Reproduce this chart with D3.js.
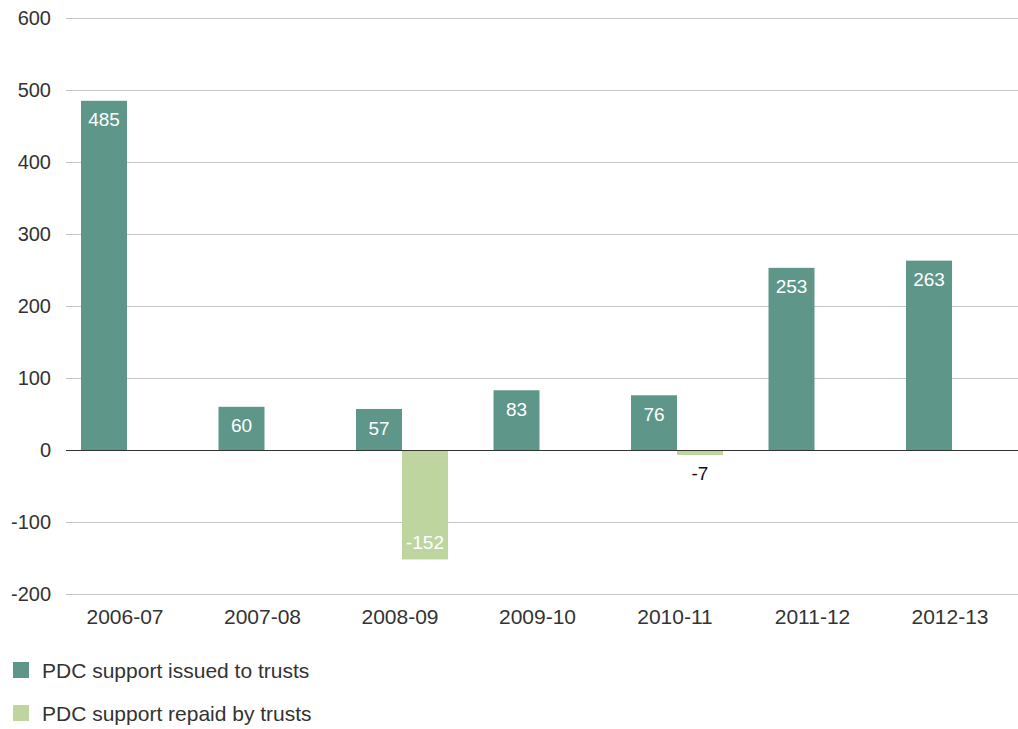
<!DOCTYPE html>
<html lang="en">
<head>
    <meta charset="UTF-8">
    <title>PDC support</title>
    <script src="https://d3js.org/d3.v7.min.js"></script>
    <style>
        body {
            margin: 0;
            background: white;
            font-family: "Helvetica Neue", Helvetica, "Liberation Sans", Arial, sans-serif;
        }
        .grid line { stroke: #c4c4c4; stroke-width: 1; }
        .y-label { fill: #333; font-size: 20px; }
        .x-label { fill: #333; font-size: 21px; }
        .value-label { font-size: 19px; }
        .legend-label { fill: #333; font-size: 21px; }
    </style>
</head>
<body>
    <div id="chart"></div>
    <script>
        // Data
        const years = ['2006-07', '2007-08', '2008-09', '2009-10', '2010-11', '2011-12', '2012-13'];
        const issued = [485, 60, 57, 83, 76, 253, 263];
        const repaid = [null, null, -152, null, -7, null, null];
        const seriesNames = ['PDC support issued to trusts', 'PDC support repaid by trusts'];
        const yTicks = [-200, -100, 0, 100, 200, 300, 400, 500, 600];

        const colors = ['#5e978a', '#bed5a0'];
        const width = 1018, height = 729;

        const svg = d3.select('#chart').append('svg')
            .attr('width', width)
            .attr('height', height);

        const y = d3.scaleLinear().domain([-200, 600]).range([594, 18]);
        const x = d3.scaleBand().domain(years)
            .range([58.25, 1020.75])
            .paddingInner(0.331)
            .paddingOuter(0.1655);
        const sub = d3.scaleBand().domain([0, 1]).range([0, x.bandwidth()]);

        // Gridlines
        const grid = svg.append('g').attr('class', 'grid');
        grid.selectAll('line')
            .data(yTicks.filter(d => d !== 0))
            .join('line')
            .attr('x1', 66).attr('x2', width)
            .attr('y1', d => Math.round(y(d)) + 0.5)
            .attr('y2', d => Math.round(y(d)) + 0.5);

        // Y tick labels
        svg.append('g').selectAll('text')
            .data(yTicks)
            .join('text')
            .attr('class', 'y-label')
            .attr('x', 51)
            .attr('y', d => y(d))
            .attr('dy', '0.35em')
            .attr('text-anchor', 'end')
            .text(d => d);

        // Bars
        const rows = [];
        years.forEach((yr, i) => {
            rows.push({ year: yr, s: 0, v: issued[i] });
            if (repaid[i] !== null) rows.push({ year: yr, s: 1, v: repaid[i] });
        });

        svg.append('g').selectAll('rect')
            .data(rows)
            .join('rect')
            .attr('x', d => x(d.year) + sub(d.s))
            .attr('width', sub.bandwidth())
            .attr('y', d => y(Math.max(0, d.v)))
            .attr('height', d => Math.abs(y(d.v) - y(0)))
            .attr('fill', d => colors[d.s]);

        // Zero line
        svg.append('line')
            .attr('x1', 66).attr('x2', width)
            .attr('y1', Math.round(y(0)) + 0.5)
            .attr('y2', Math.round(y(0)) + 0.5)
            .attr('stroke', '#333')
            .attr('stroke-width', 1);

        // Value labels
        const small = d => Math.abs(y(d.v) - y(0)) < 30;
        svg.append('g').selectAll('text')
            .data(rows)
            .join('text')
            .attr('class', 'value-label')
            .attr('x', d => x(d.year) + sub(d.s) + sub.bandwidth() / 2)
            .attr('y', d => {
                if (d.v >= 0) return y(d.v) + 19;
                if (small(d)) return y(d.v) + 18;
                return y(d.v) - 17;
            })
            .attr('dy', '0.35em')
            .attr('text-anchor', 'middle')
            .attr('fill', d => (d.v < 0 && small(d)) ? '#111' : '#fff')
            .text(d => d.v);

        // X labels
        svg.append('g').selectAll('text')
            .data(years)
            .join('text')
            .attr('class', 'x-label')
            .attr('x', d => x(d) + x.bandwidth() / 2 - 2)
            .attr('y', 624)
            .attr('text-anchor', 'middle')
            .text(d => d);

        // Legend
        const legend = svg.append('g').selectAll('g')
            .data(seriesNames)
            .join('g')
            .attr('transform', (d, i) => `translate(13, ${662 + i * 43})`);
        legend.append('rect')
            .attr('width', 16).attr('height', 16)
            .attr('fill', (d, i) => colors[i]);
        legend.append('text')
            .attr('class', 'legend-label')
            .attr('x', 29)
            .attr('y', 16)
            .text(d => d);
    </script>
</body>
</html>
